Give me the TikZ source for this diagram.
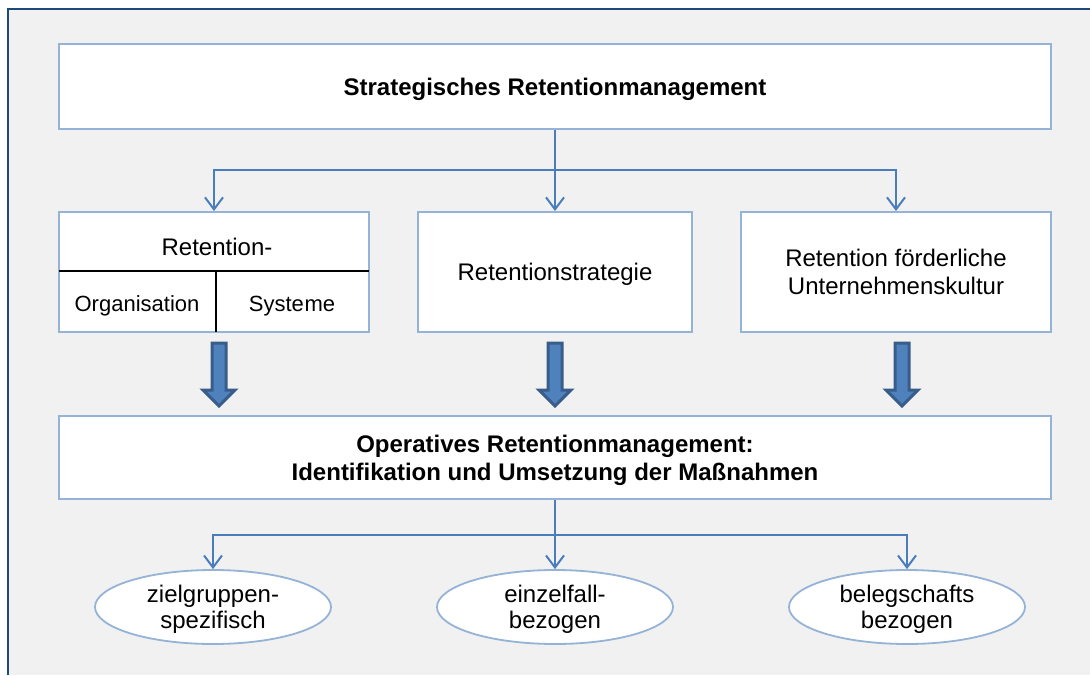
\documentclass[tikz,border=0pt]{standalone}
\usepackage{fontspec}
\setmainfont{Liberation Sans}
\usetikzlibrary{arrows.meta,shapes.geometric}

\definecolor{panel}{HTML}{F1F1F1}
\definecolor{frameblue}{HTML}{1F497D}
\definecolor{boxline}{HTML}{95B3D7}
\definecolor{linkblue}{HTML}{4A7EBB}
\definecolor{arrowfill}{HTML}{4F81BD}
\definecolor{arrowedge}{HTML}{385D8A}

\tikzset{
  box/.style={draw=boxline, line width=2pt, fill=white, inner sep=0pt,
    align=center, text depth=-1pt, font=\fontsize{24}{28}\selectfont},
  titlebox/.style={box, font=\bfseries\fontsize{24}{28}\selectfont},
  oval/.style={ellipse, draw=boxline, line width=1.8pt, fill=white, inner sep=0pt,
    minimum width=236pt, minimum height=74pt, align=center, text depth=-5pt,
    font=\fontsize{24}{26}\selectfont},
  link/.style={draw=linkblue, line width=2pt},
  linkarrow/.style={link, -{Straight Barb[length=12pt,width=18pt,line width=2pt]}},
  divider/.style={draw=black, line width=1.8pt},
  celltext/.style={inner sep=0pt, font=\fontsize{22}{26}\selectfont},
  bigarrow/.pic={
    \draw[fill=arrowfill, draw=arrowedge, line width=3pt, line join=miter]
      (-7,0) -- (7,0) -- (7,47) -- (16,47) -- (0,63) -- (-16,47) -- (-7,47) -- cycle;
  }
}

\begin{document}
\begin{tikzpicture}[x=1pt, y=-1pt]
  \useasboundingbox (0,0) rectangle (1090,675);

  % panel background with its top/left rule
  \fill[panel] (8,9) rectangle (1090,675);
  \draw[frameblue, line width=2pt] (8,675) -- (8,9) -- (1090,9);

  % strategic level
  \node[titlebox, minimum width=992pt, minimum height=85pt] (strat) at (555,86.5)
    {Strategisches Retentionmanagement};

  % three pillars
  \node[box, minimum width=310pt, minimum height=120pt] (org) at (214,272) {};
  \node[box, minimum width=274pt, minimum height=120pt] (strategy) at (555,272)
    {Retentionstrategie};
  \node[box, minimum width=310pt, minimum height=120pt] (culture) at (896,272)
    {Retention förderliche\\Unternehmenskultur};

  % split cell inside the first pillar
  \draw[divider] (59,271) -- (369,271);
  \draw[divider] (216,271) -- (216,332);
  \node[inner sep=0pt, font=\fontsize{24}{28}\selectfont] (orgtitle) at (217,247) {Retention-};
  \node[celltext] (orgleft) at (137,306) {Organisation};
  \node[celltext] (orgright) at (292,306) {Syste\kern0.6pt me};

  % operative level
  \node[titlebox, minimum width=992pt, minimum height=83pt] (oper) at (555,457.5)
    {Operatives Retentionmanagement:\\Identifikation und Umsetzung der Maßnahmen};

  % measure types
  \node[oval] (target) at (213,607) {zielgruppen-\\spezifisch};
  \node[oval] (single) at (555,607) {einzelfall-\\bezogen};
  \node[oval] (staff) at (907,607) {belegschafts\\bezogen};

  % branching connectors from the strategic level
  \coordinate (splitA) at (555,170);
  \draw[link] (strat.south) -- (splitA);
  \draw[linkarrow] (splitA) -| (org.north);
  \draw[linkarrow] (splitA) -- (strategy.north);
  \draw[linkarrow] (splitA) -| (culture.north);

  % block arrows down to the operative level
  \pic at (219,343) {bigarrow};
  \pic at (555,343) {bigarrow};
  \pic at (902,343) {bigarrow};

  % branching connectors from the operative level
  \coordinate (splitB) at (555,535);
  \draw[link] (oper.south) -- (splitB);
  \draw[linkarrow] (splitB) -| (target.north);
  \draw[linkarrow] (splitB) -- (single.north);
  \draw[linkarrow] (splitB) -| (staff.north);
\end{tikzpicture}
\end{document}
